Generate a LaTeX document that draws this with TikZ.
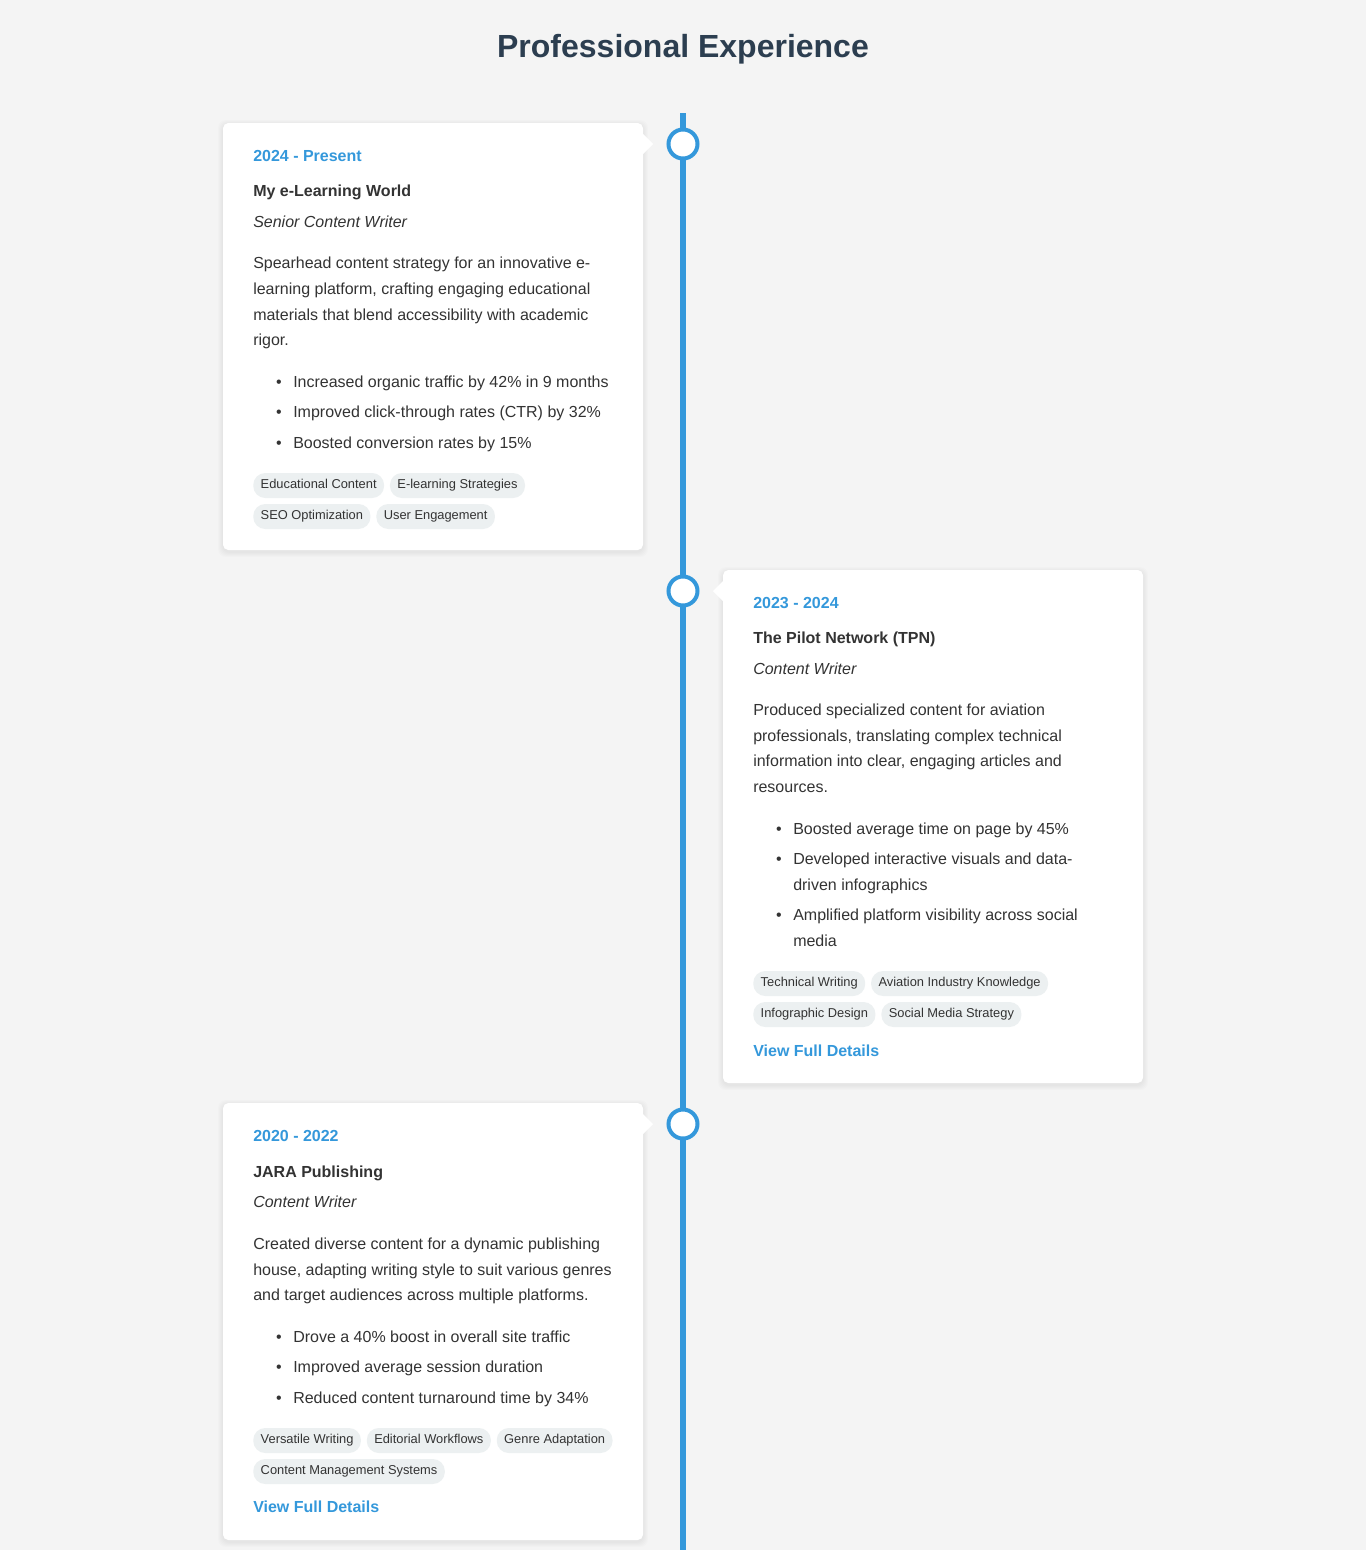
\documentclass[tikz,border=0pt]{standalone}
\usepackage{fontspec}
\setmainfont{Liberation Sans}
\usetikzlibrary{positioning}
\definecolor{pagebg}{HTML}{F4F4F4}
\definecolor{accent}{HTML}{3498DB}
\definecolor{heading}{HTML}{2C3E50}
\definecolor{ink}{HTML}{333333}
\definecolor{tagfill}{HTML}{ECF0F1}

\tikzset{
  plain/.style={anchor=base west, inner sep=0pt, text=ink, font=\fontsize{12}{14}\selectfont},
  yearlbl/.style={plain, text=accent, font=\fontsize{12}{14}\selectfont\bfseries},
  firmlbl/.style={plain, font=\fontsize{12}{14}\selectfont\bfseries},
  rolelbl/.style={plain, font=\fontsize{12}{14}\selectfont\itshape},
  tagbox/.style={fill=tagfill, rounded corners=9pt, inner xsep=5.6pt, inner ysep=0pt,
    minimum height=18.75pt, text height=7.2pt, text depth=2pt, text=ink,
    font=\fontsize{9.65}{12}\selectfont},
  cardbox/.style={fill=white, rounded corners=4pt},
  tlcircle/.style={circle, draw=accent, line width=3pt, fill=white,
    minimum size=21.75pt, inner sep=0pt},
}

\begin{document}
\begin{tikzpicture}[x=0.75pt, y=-0.75pt]
    \useasboundingbox (0,0) rectangle (1366,1550);
    \fill[pagebg] (0,0) rectangle (1366,1550);

    \node[anchor=base, inner sep=0pt, text=heading, font=\fontsize{24}{28}\selectfont\bfseries]
      (title) at (683,57) {Professional Experience};

    % timeline
    \coordinate (top) at (683,113);
    \coordinate (bot) at (683,1550);
    \draw[accent, line width=4.5pt] (top) -- (bot);

    % shadows
    \foreach \a/\b/\c/\d in {223/123/643/550, 723/570/1143/1083, 223/1103/643/1540}
      \foreach \s in {1,...,5}
        \fill[black, opacity=0.012, rounded corners=6pt] (\a-\s,\b-\s+2) rectangle (\c+\s,\d+\s+2);

    % cards
    \fill[cardbox] (223,123) rectangle (643,550);
    \fill[white] (643,134) -- (653,144) -- (643,154) -- cycle;
    \fill[cardbox] (723,570) rectangle (1143,1083);
    \fill[white] (723,581) -- (713,591) -- (723,601) -- cycle;
    \fill[cardbox] (223,1103) rectangle (643,1540);
    \fill[white] (643,1114) -- (653,1124) -- (643,1134) -- cycle;

    \node[tlcircle] (c1) at (683,144) {};
    \node[tlcircle] (c2) at (683,591) {};
    \node[tlcircle] (c3) at (683,1124) {};

    % card 1
    \node[yearlbl] (y1) at (253,161) {2024 - Present};
    \node[firmlbl] (f1) at (253,196) {My e-Learning World};
    \node[rolelbl] (r1) at (253,227) {Senior Content Writer};
    \foreach \y/\t in {268/{Spearhead content strategy for an innovative e-},
                       294/{learning platform, crafting engaging educational},
                       320/{materials that blend accessibility with academic},
                       345/{rigor.}}
      \node[plain] at (253,\y) {\t};
    \foreach \y in {387,417,448}
      \node[plain, anchor=base] at (279,\y) {•};
    \foreach \y/\t in {387/{Increased organic traffic by 42\% in 9 months},
                       417/{Improved click-through rates (CTR) by 32\%},
                       448/{Boosted conversion rates by 15\%}}
      \node[plain] at (293,\y) {\t};
    \node[tagbox, anchor=west] (t11) at (253,485.5) {Educational Content};
    \node[tagbox, right=4pt of t11] (t12) {E-learning Strategies};
    \node[tagbox, anchor=west] (t13) at (253,516.5) {SEO Optimization};
    \node[tagbox, right=4pt of t13] (t14) {User Engagement};

    % card 2
    \node[yearlbl] (y2) at (753,608) {2023 - 2024};
    \node[firmlbl] (f2) at (753,643) {The Pilot Network (TPN)};
    \node[rolelbl] (r2) at (753,674) {Content Writer};
    \foreach \y/\t in {715/{Produced specialized content for aviation},
                       741/{professionals, translating complex technical},
                       766/{information into clear, engaging articles and},
                       792/{resources.}}
      \node[plain] at (753,\y) {\t};
    \foreach \y in {834,864,920}
      \node[plain, anchor=base] at (779,\y) {•};
    \foreach \y/\t in {834/{Boosted average time on page by 45\%},
                       864/{Developed interactive visuals and data-},
                       890/{driven infographics},
                       920/{Amplified platform visibility across social},
                       946/{media}}
      \node[plain] at (793,\y) {\t};
    \node[tagbox, anchor=west] (t21) at (753,983.5) {Technical Writing};
    \node[tagbox, right=4pt of t21] (t22) {Aviation Industry Knowledge};
    \node[tagbox, anchor=west] (t23) at (753,1014.5) {Infographic Design};
    \node[tagbox, right=4pt of t23] (t24) {Social Media Strategy};
    \node[yearlbl] (v2) at (753,1056) {View Full Details};

    % card 3
    \node[yearlbl] (y3) at (253,1141) {2020 - 2022};
    \node[firmlbl] (f3) at (253,1177) {JARA Publishing};
    \node[rolelbl] (r3) at (253,1207) {Content Writer};
    \foreach \y/\t in {1249/{Created diverse content for a dynamic publishing},
                       1275/{house, adapting writing style to suit various genres},
                       1300/{and target audiences across multiple platforms.}}
      \node[plain] at (253,\y) {\t};
    \foreach \y in {1342,1372,1403}
      \node[plain, anchor=base] at (279,\y) {•};
    \foreach \y/\t in {1342/{Drove a 40\% boost in overall site traffic},
                       1372/{Improved average session duration},
                       1403/{Reduced content turnaround time by 34\%}}
      \node[plain] at (293,\y) {\t};
    \node[tagbox, anchor=west] (t31) at (253,1440.5) {Versatile Writing};
    \node[tagbox, right=4pt of t31] (t32) {Editorial Workflows};
    \node[tagbox, right=4pt of t32] (t33) {Genre Adaptation};
    \node[tagbox, anchor=west] (t34) at (253,1471.5) {Content Management Systems};
    \node[yearlbl] (v3) at (253,1512) {View Full Details};

\end{tikzpicture}
\end{document}
